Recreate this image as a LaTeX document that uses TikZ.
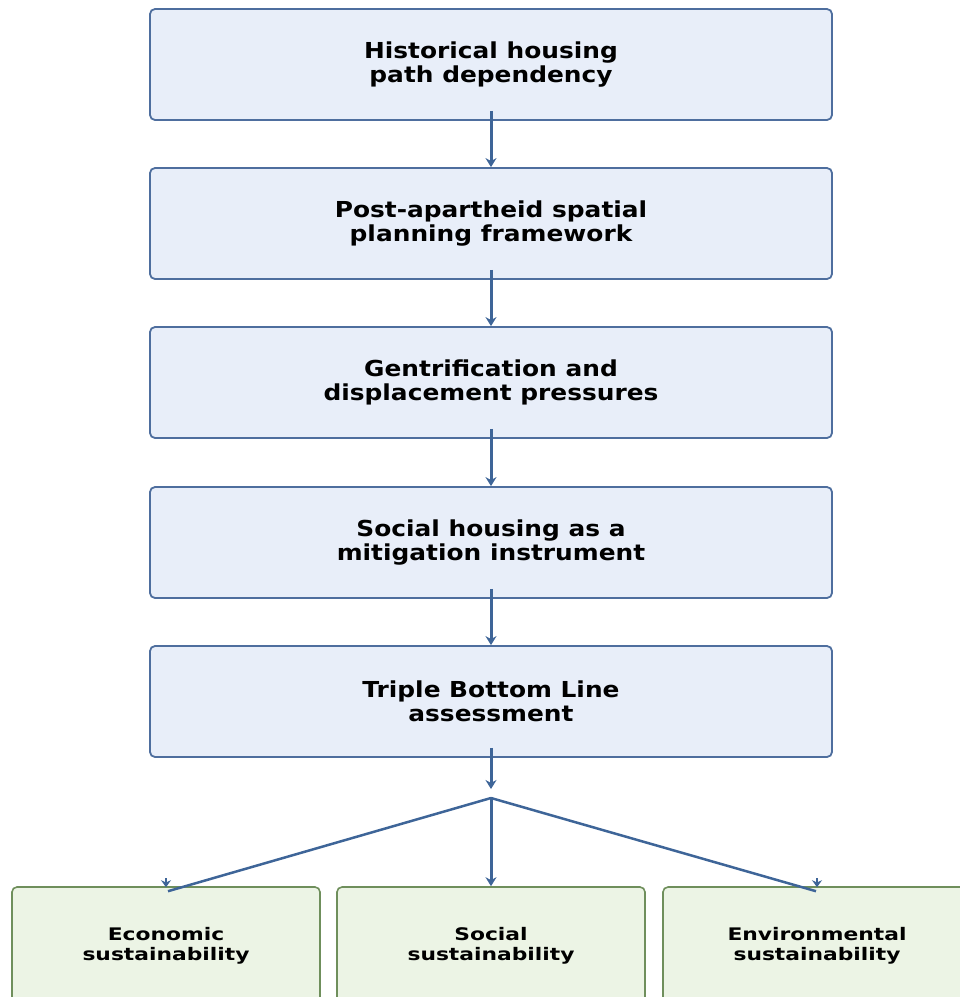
\documentclass[tikz,border=0pt]{standalone}
\usepackage{fontspec}
\setmainfont{DejaVu Sans}
\newfontfamily\widefont[FakeStretch=1.13]{DejaVu Sans}
\newfontfamily\leaffont[FakeStretch=1.26]{DejaVu Sans}
\usetikzlibrary{arrows.meta}
\definecolor{mainfill}{HTML}{E8EEF9}
\definecolor{maindraw}{HTML}{4E6E9E}
\definecolor{arrcol}{HTML}{3E6598}
\definecolor{greenfill}{HTML}{ECF4E5}
\definecolor{greendraw}{HTML}{6F8F5C}
\tikzset{
  mainbox/.style={draw=maindraw, fill=mainfill, line width=1.8pt, rounded corners=5pt,
    minimum width=682pt, minimum height=111pt, align=center,
    font=\widefont\fontsize{22}{24.5}\selectfont\bfseries, inner sep=0pt},
  leafbox/.style={draw=greendraw, fill=greenfill, line width=1.6pt, rounded corners=5pt,
    minimum width=308pt, minimum height=118pt, align=center,
    font=\leaffont\fontsize{17.3}{20}\selectfont\bfseries, inner sep=0pt},
  arr/.style={draw=arrcol, line width=3pt, -{Stealth[length=9pt,width=11pt]}},
  conn/.style={draw=arrcol, line width=2.5pt},
}
\begin{document}
\begin{tikzpicture}[x=1pt,y=-1pt]
\useasboundingbox (0,0) rectangle (960,997);
\node[mainbox] (a) at (491,64.5) {Historical housing\\path dependency};
\node[mainbox] (b) at (491,223.5) {Post-apartheid spatial\\planning framework};
\node[mainbox] (c) at (491,382.5) {Gentrification and\\displacement pressures};
\node[mainbox] (d) at (491,542.5) {Social housing as a\\mitigation instrument};
\node[mainbox] (e) at (491,701.5) {Triple Bottom Line\\assessment};
\node[leafbox] (l) at (166,946) {Economic\\sustainability};
\node[leafbox] (m) at (491,946) {Social\\sustainability};
\node[leafbox] (r) at (817,946) {Environmental\\sustainability};
\coordinate (fan) at (491,798);
\coordinate (fantip) at (491,789);
\draw[arr] ([yshift=10pt]a.south) -- (b.north);
\draw[arr] ([yshift=10pt]b.south) -- (c.north);
\draw[arr] ([yshift=10pt]c.south) -- (d.north);
\draw[arr] ([yshift=10pt]d.south) -- (e.north);
\draw[arr] ([yshift=10pt]e.south) -- (fantip);
\draw[arr] (fan) -- (m.north);
\draw[conn] (fan) -- ([xshift=2pt,yshift=-5pt]l.north);
\draw[conn] (fan) -- ([xshift=-1pt,yshift=-5pt]r.north);
\draw[draw=arrcol, line width=2.4pt, -{Stealth[length=7pt,width=10pt]}] ([yshift=8pt]l.north) -- ([yshift=-1pt]l.north);
\draw[draw=arrcol, line width=2.4pt, -{Stealth[length=7pt,width=10pt]}] ([yshift=8pt]r.north) -- ([yshift=-1pt]r.north);
\end{tikzpicture}
\end{document}
